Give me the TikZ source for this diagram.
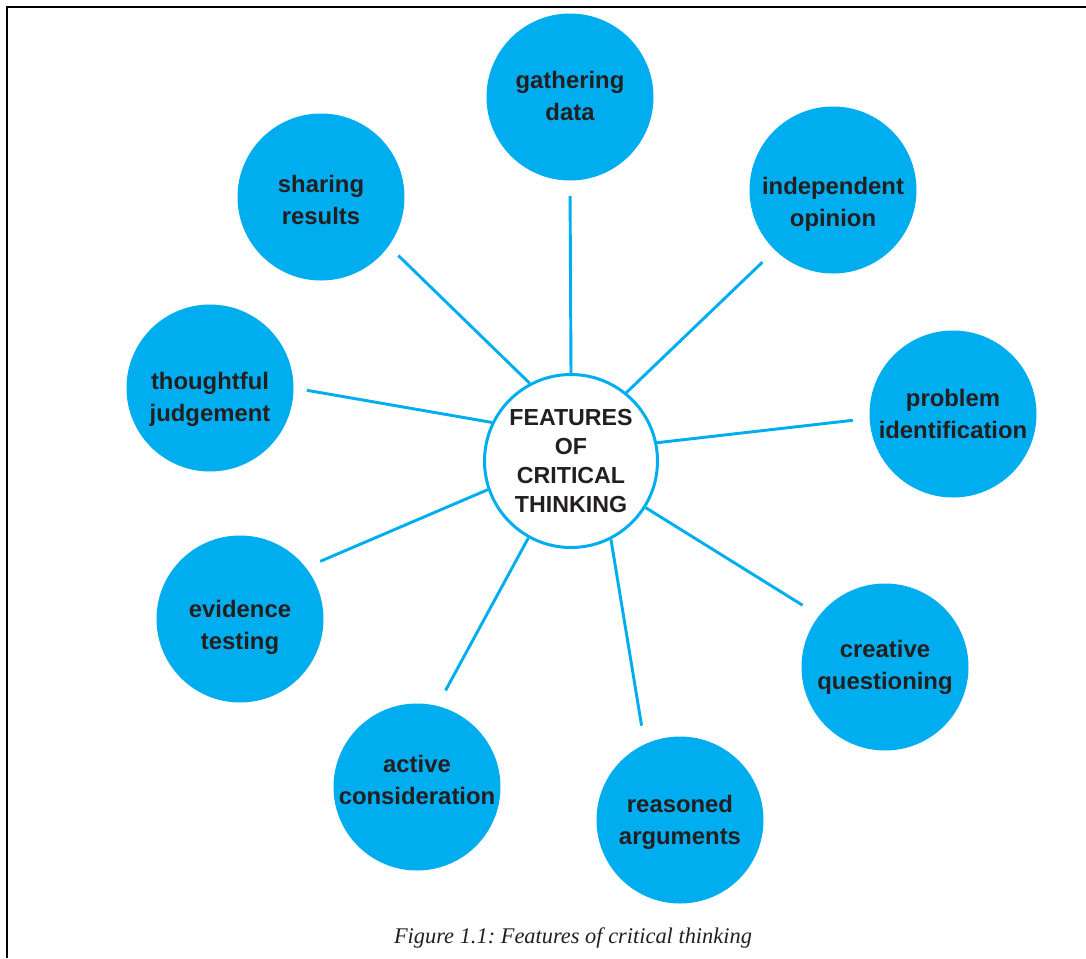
\documentclass[tikz,border=0pt]{standalone}
\usepackage{fontspec}
\setmainfont{Liberation Sans}
\newfontfamily\captionserif{Liberation Serif}
\definecolor{bubblecyan}{HTML}{00AEEF}
\definecolor{ink}{HTML}{231F20}
\frenchspacing
\begin{document}
\begin{tikzpicture}[x=0.75pt,y=-0.75pt,
  feature/.style={circle, fill=bubblecyan, minimum size=125.25pt, inner sep=0pt},
  featuretext/.style={align=center, text=ink, inner sep=0pt,
    font=\bfseries\fontsize{17.9}{24}\selectfont},
  hub/.style={circle, draw=bubblecyan, line width=2.25pt, fill=white,
    minimum size=129.75pt, inner sep=0pt, align=center, text=ink,
    font=\bfseries\fontsize{17.4}{21.75}\selectfont},
  link/.style={draw=bubblecyan, line width=2.2pt},
  frame/.style={draw=black, line width=1.6pt}]
\useasboundingbox (0,0) rectangle (1086,958);

% frame: top and left rules only
\coordinate (tl) at (7,7);
\coordinate (tr) at (1086,7);
\coordinate (bl) at (7,958);
\draw[frame] (tr) -- (tl) -- (bl);

% central topic
\node[hub] (hub) at (571,461) {FEATURES\\OF\\CRITICAL\\THINKING};

% the nine feature bubbles
\node[feature] (gather)   at (570,97)  {};
\node[feature] (indep)    at (833,190) {};
\node[feature] (problem)  at (953,414) {};
\node[feature] (creative) at (885,667) {};
\node[feature] (reason)   at (680,820) {};
\node[feature] (active)   at (417,787) {};
\node[feature] (evidence) at (240,619) {};
\node[feature] (thought)  at (210,388) {};
\node[feature] (share)    at (321,197) {};

% their labels
\node[featuretext, yshift=0.75pt]   (gather-t)   at (gather.center)   {gathering\\data};
\node[featuretext, yshift=-10.5pt]  (indep-t)    at (indep.center)    {independent\\opinion};
\node[featuretext, yshift=0pt]      (problem-t)  at (problem.center)  {problem\\identification};
\node[featuretext, yshift=0pt]      (creative-t) at (creative.center) {creative\\questioning};
\node[featuretext, yshift=-1.9pt]   (reason-t)   at (reason.center)   {reasoned\\arguments};
\node[featuretext, yshift=5.6pt]    (active-t)   at (active.center)   {active\\consideration};
\node[featuretext, yshift=-6.4pt]   (evidence-t) at (evidence.center) {evidence\\testing};
\node[featuretext, yshift=-8.6pt]   (thought-t)  at (thought.center)  {thoughtful\\judgement};
\node[featuretext, yshift=-1.9pt]   (share-t)    at (share.center)    {sharing\\results};

% spokes from the hub, stopping short of each bubble
\draw[link, shorten >=11.6pt] (hub.90)    -- (gather.270);
\draw[link, shorten >=13pt]   (hub.51)    -- (indep.226);
\draw[link, shorten >=12.5pt] (hub.12.5)  -- (problem.183);
\draw[link, shorten >=14.5pt] (hub.-32)   -- (creative.142);
\draw[link, shorten >=14pt]   (hub.-63)   -- (reason.115);
\draw[link, shorten >=13pt]   (hub.241.5) -- (active.76);
\draw[link, shorten >=11.6pt] (hub.199)   -- (evidence.38);
\draw[link, shorten >=10pt]   (hub.154)   -- (thought.0);
\draw[link, shorten >=10pt]   (hub.118)   -- (share.324);

% caption
\node[anchor=base, text=ink, font=\captionserif\itshape\fontsize{16.8}{19}\selectfont]
  (figcaption) at (573,943) {Figure 1.1: Features of critical thinking};
\end{tikzpicture}
\end{document}
